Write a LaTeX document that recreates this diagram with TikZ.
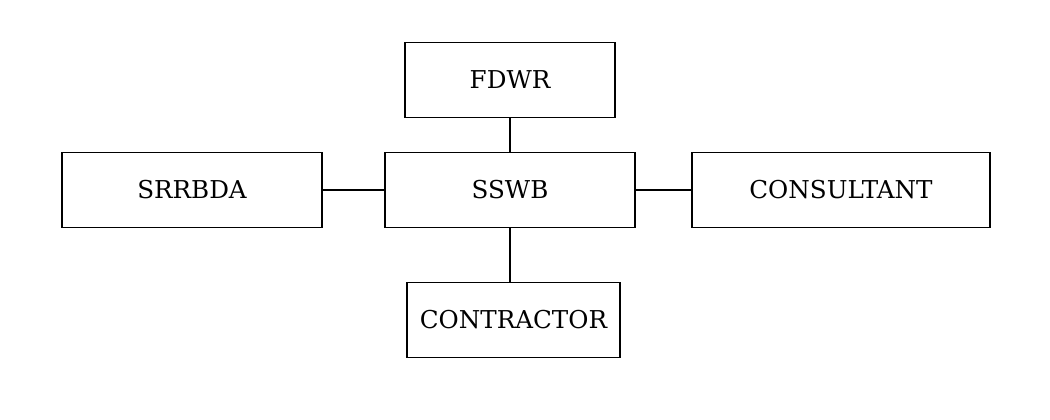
\documentclass[tikz,border=0pt]{standalone}
\usepackage{fontspec}
\setmainfont{DejaVu Serif}
\usepackage{tikz}

\begin{document}
\begin{tikzpicture}[
  orgbox/.style={draw, line width=1.1pt, inner sep=0pt, minimum height=1.5cm,
    font=\fontsize{14}{16}\selectfont},
  link/.style={line width=1.1pt}]
  \useasboundingbox (0,0) rectangle (21,8.4);
  \node[orgbox, minimum width=4.2cm] (fdwr) at (10.2,6.8) {FDWR};
  \node[orgbox, minimum width=5cm] (sswb) at (10.2,4.6) {SSWB};
  \node[orgbox, minimum width=5.2cm] (srrbda) at (3.84,4.6) {SRRBDA};
  \node[orgbox, minimum width=5.96cm] (consult) at (16.82,4.6) {CONSULTANT};
  \node[orgbox, minimum width=4.26cm] (contr) at (10.27,2.0) {CONTRACTOR};
  \draw[link] (fdwr.south) -- (sswb.north);
  \draw[link] (srrbda.east) -- (sswb.west);
  \draw[link] (sswb.east) -- (consult.west);
  \draw[link] (sswb.south) -- (sswb.south |- contr.north);
\end{tikzpicture}
\end{document}
